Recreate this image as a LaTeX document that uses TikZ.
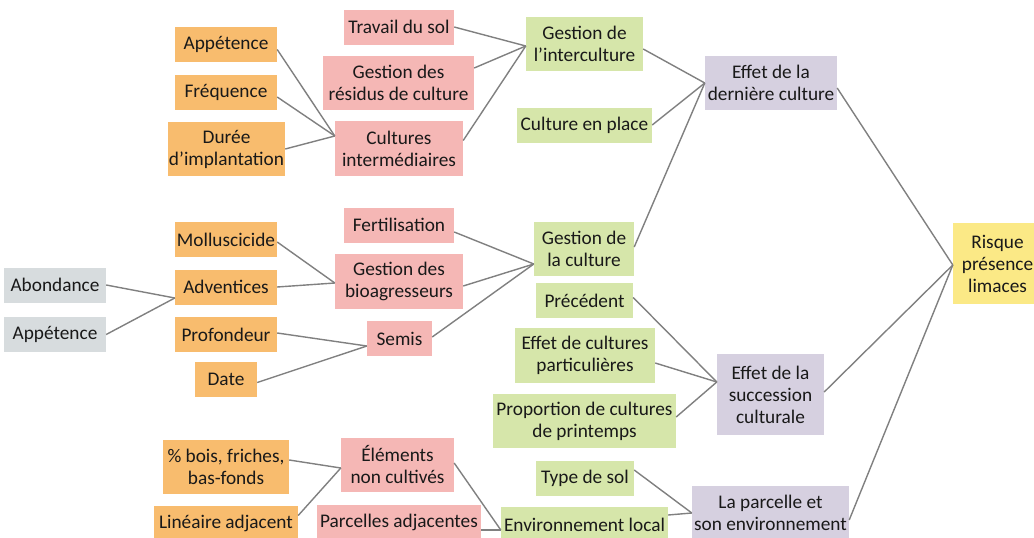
\documentclass[tikz,border=0pt]{standalone}
\usepackage{fontspec}
\setmainfont{Carlito}
\definecolor{corange}{HTML}{F8BC6E}
\definecolor{crose}{HTML}{F5B7B5}
\definecolor{cvert}{HTML}{D6E6AA}
\definecolor{cmauve}{HTML}{D6D0E0}
\definecolor{cgris}{HTML}{D7DCDE}
\definecolor{cjaune}{HTML}{FBE986}
\definecolor{ctrait}{HTML}{808080}
\tikzset{
boite/.style={inner sep=0pt, align=center, font=\fontsize{19.3}{22}\selectfont, text=black!90},
orangebox/.style={boite, fill=corange},
rosebox/.style={boite, fill=crose},
vertbox/.style={boite, fill=cvert},
mauvebox/.style={boite, fill=cmauve},
grisbox/.style={boite, fill=cgris},
jaunebox/.style={boite, fill=cjaune},
trait/.style={draw=ctrait, line width=1.4pt}
}
\newcommand{\boite}[7]{%
\node[#1, minimum width=#5, minimum height=#6] (#2) at (#3,#4) {#7};
}
\newcommand{\relie}[4]{%
\draw[trait] ([yshift=#2]#1.east) -- ([yshift=#4]#3.west);
}

\begin{document}
\begin{tikzpicture}[x=1pt,y=-1pt]

\useasboundingbox (0,0) rectangle (1034,538);
\clip (0,0) rectangle (1034,538);
\fill[white] (0,0) rectangle (1034,538);

% adventices
\boite{grisbox}{abond}{55}{285}{102}{35}{Abondance}
\boite{grisbox}{appG}{55}{334.5}{102}{35}{Appétence}

% facteurs
\boite{orangebox}{appA}{226}{44.5}{102}{35}{Appétence}
\boite{orangebox}{freq}{226}{92}{102}{35}{Fréquence}
\boite{orangebox}{duree}{226.5}{149}{117}{54}{Durée\\d’implantation}
\boite{orangebox}{mollu}{226}{239.5}{102}{35}{Molluscicide}
\boite{orangebox}{advent}{226}{287}{102}{35}{Adventices}
\boite{orangebox}{profond}{226}{334.5}{102}{35}{Profondeur}
\boite{orangebox}{date}{226}{379.5}{62}{35}{Date}
\boite{orangebox}{bois}{226}{467}{126}{54}{\% bois, friches,\\bas-fonds}
\boite{orangebox}{lineaire}{226}{523.5}{144}{35}{Linéaire adjacent}

% pratiques
\boite{rosebox}{travail}{399}{27}{110}{35}{Travail du sol}
\boite{rosebox}{residus}{398.5}{83}{151}{54}{Gestion des\\résidus de culture}
\boite{rosebox}{cultint}{399}{148.5}{128}{55}{Cultures\\intermédiaires}
\boite{rosebox}{fertil}{399}{225}{110}{35}{Fertilisation}
\boite{rosebox}{bioag}{399}{281.5}{128}{55}{Gestion des\\bioagresseurs}
\boite{rosebox}{semis}{399.5}{338.5}{65}{35}{Semis}
\boite{rosebox}{elements}{397.5}{465}{113}{54}{Éléments\\non cultivés}
\boite{rosebox}{parcadj}{399}{522.5}{164}{35}{Parcelles adjacentes}

% gestion
\boite{vertbox}{interc}{584.5}{44}{117}{54}{Gestion de\\l’interculture}
\boite{vertbox}{enplace}{584.5}{125}{135}{35}{Culture en place}
\boite{vertbox}{gestcult}{584}{249}{100}{54}{Gestion de\\la culture}
\boite{vertbox}{preced}{584.5}{300.5}{97}{35}{Précédent}
\boite{vertbox}{particul}{585}{355.5}{140}{55}{Effet de cultures\\particulières}
\boite{vertbox}{proport}{584.5}{421}{183}{54}{Proportion de cultures\\de printemps}
\boite{vertbox}{typesol}{585}{478.5}{98}{35}{Type de sol}
\boite{vertbox}{envloc}{584.5}{524.5}{167}{35}{Environnement local}

% effets
\boite{mauvebox}{dern}{771}{83}{132}{54}{Effet de la\\dernière culture}
\boite{mauvebox}{succ}{770.5}{394.5}{107}{81}{Effet de la\\succession\\culturale}
\boite{mauvebox}{parcelle}{770.5}{513}{157}{54}{La parcelle et\\son environnement}

\boite{jaunebox}{risque}{997.5}{263.5}{89}{81}{Risque\\présence\\limaces}

% liens
\relie{appA}{-5}{cultint}{12.5}
\relie{freq}{-5}{cultint}{12.5}
\relie{duree}{0}{cultint}{12.5}
\relie{travail}{0}{interc}{-2}
\relie{residus}{15}{interc}{-2}
\relie{cultint}{8}{interc}{-2}
\relie{interc}{-5}{dern}{0}
\relie{enplace}{0}{dern}{0}
\relie{gestcult}{2}{dern}{0}
\relie{dern}{-5}{risque}{-1.5}

\relie{abond}{0}{advent}{-11}
\relie{appG}{0}{advent}{-11}
\relie{mollu}{-2.5}{bioag}{-1.5}
\relie{advent}{0}{bioag}{-1.5}
\relie{profond}{1.5}{semis}{-7.5}
\relie{date}{-3}{semis}{-7.5}
\relie{fertil}{-7}{gestcult}{-15}
\relie{bioag}{-4.5}{gestcult}{-15}
\relie{semis}{1.5}{gestcult}{-15}

\relie{preced}{3}{succ}{12.5}
\relie{particul}{-7.5}{succ}{12.5}
\relie{proport}{4}{succ}{12.5}
\relie{succ}{2.5}{risque}{-1.5}

\relie{bois}{7}{elements}{-3}
\relie{lineaire}{8}{elements}{-3}
\relie{elements}{2}{envloc}{-5.5}
\relie{parcadj}{-7.5}{envloc}{-5.5}
\relie{typesol}{8.5}{parcelle}{0}
\relie{envloc}{9.5}{parcelle}{0}
\relie{parcelle}{-7}{risque}{-1.5}

\end{tikzpicture}
\end{document}
